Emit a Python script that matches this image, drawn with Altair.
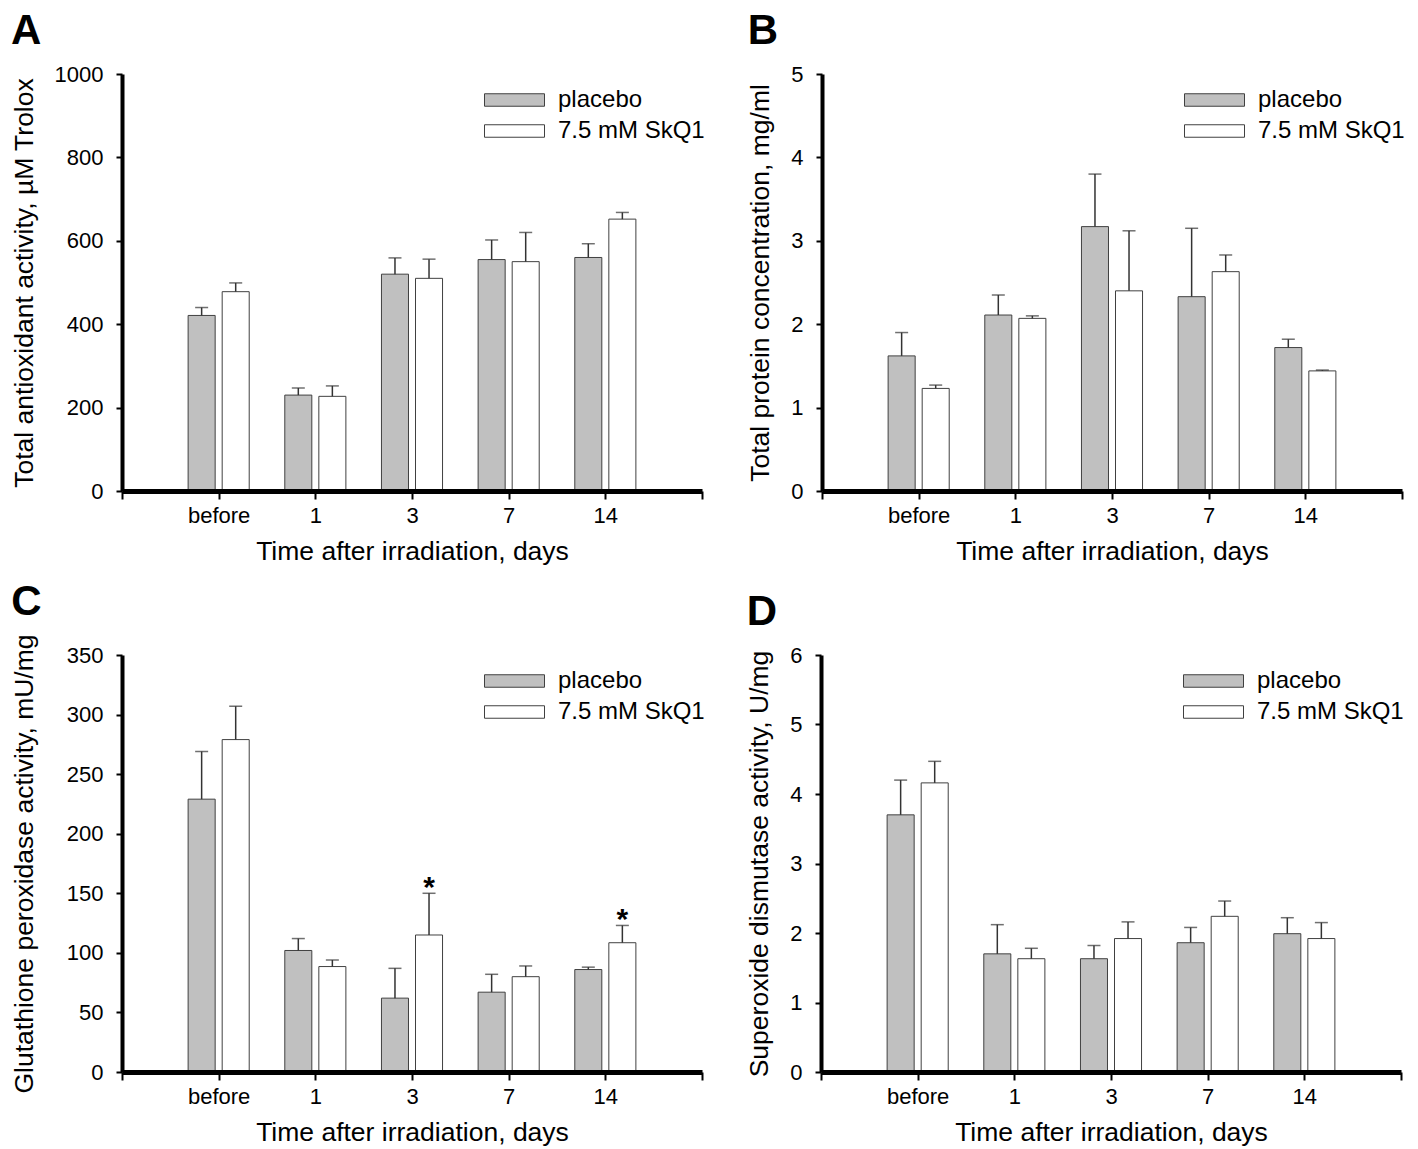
import json
import altair as alt
import pandas as pd

categories = ["before", "1", "3", "7", "14"]
series = ["placebo", "7.5 mM SkQ1"]

# Panel A: total antioxidant activity, µM Trolox
a_placebo = [421, 230, 520, 555, 560]
a_placebo_err = [19, 17, 39, 47, 33]
a_skq1 = [478, 227, 510, 550, 652]
a_skq1_err = [21, 25, 46, 70, 16]
a_ticks = [0, 200, 400, 600, 800, 1000]

# Panel B: total protein concentration, mg/ml
b_placebo = [1.62, 2.11, 3.17, 2.33, 1.72]
b_placebo_err = [0.28, 0.24, 0.63, 0.82, 0.10]
b_skq1 = [1.23, 2.07, 2.40, 2.63, 1.44]
b_skq1_err = [0.04, 0.03, 0.72, 0.20, 0.01]
b_ticks = [0, 1, 2, 3, 4, 5]

# Panel C: glutathione peroxidase activity, mU/mg
c_placebo = [229, 102, 62, 67, 86]
c_placebo_err = [40, 10, 25, 15, 2]
c_skq1 = [279, 88.5, 115, 80, 108.5]
c_skq1_err = [28, 5.5, 35, 9, 14.5]
c_sig = [False, False, True, False, True]
c_ticks = [0, 50, 100, 150, 200, 250, 300, 350]

# Panel D: superoxide dismutase activity, U/mg
d_placebo = [3.70, 1.70, 1.63, 1.86, 1.99]
d_placebo_err = [0.50, 0.42, 0.19, 0.22, 0.23]
d_skq1 = [4.16, 1.63, 1.92, 2.24, 1.92]
d_skq1_err = [0.31, 0.15, 0.24, 0.22, 0.23]
d_ticks = [0, 1, 2, 3, 4, 5, 6]

x_title = "Time after irradiation, days"

W, H = 580, 417
FONT = "Liberation Sans"
LEGEND_PATH = "M-1,-0.208L1,-0.208L1,0.208L-1,0.208Z"
n = len(categories)
label_expr = (
    f"datum.value >= 1 && datum.value <= {n} ? "
    f"{json.dumps(categories)}[datum.value - 1] : ''"
)


def panel(letter, ytitle, yticks, pl, pl_err, sk, sk_err, sig=None, ytitle_pad=16):
    sig = sig or [False] * n
    df = pd.DataFrame({
        "cat": categories * 2,
        "idx": list(range(1, n + 1)) * 2,
        "series": [series[0]] * n + [series[1]] * n,
        "value": pl + sk,
        "err": pl_err + sk_err,
        "sig": [False] * n + sig,
    })
    base = alt.Chart(df).transform_calculate(hi="datum.value + datum.err")
    x = alt.X("cat:N", sort=categories,
              scale=alt.Scale(domain=categories, paddingInner=0.368, paddingOuter=0.684),
              axis=None)
    xo = alt.XOffset("series:N", sort=series,
                     scale=alt.Scale(domain=series, paddingInner=0.206, paddingOuter=0))
    yscale = alt.Scale(domain=[yticks[0], yticks[-1]], nice=False, zero=True)
    yaxis = alt.Axis(values=yticks, format="d", title=ytitle, titlePadding=ytitle_pad)
    bars = base.mark_bar(stroke="#404040", strokeWidth=1).encode(
        x=x, xOffset=xo,
        y=alt.Y("value:Q", scale=yscale, axis=yaxis),
        color=alt.Color("series:N", sort=series,
                        scale=alt.Scale(domain=series, range=["#c0c0c0", "#ffffff"]),
                        legend=alt.Legend(
                            title=None, orient="none", legendX=362, legendY=13.5,
                            symbolType=LEGEND_PATH, symbolSize=3600,
                            symbolStrokeColor="#404040", symbolStrokeWidth=1,
                            labelFontSize=24, labelOffset=13, rowPadding=6,
                            clipHeight=25, padding=0, labelColor="black",
                            labelFont=FONT)),
    )
    rules = base.mark_rule(color="#333333", strokeWidth=1.5).encode(
        x=x, xOffset=xo, y="value:Q", y2="hi:Q")
    caps = base.mark_tick(color="#333333", thickness=1.5, size=13,
                          orient="horizontal").encode(x=x, xOffset=xo, y="hi:Q")
    stars = base.transform_filter("datum.sig").mark_text(
        text="*", fontSize=30, fontWeight="bold", baseline="alphabetic",
        dy=4, color="black", font=FONT).encode(x=x, xOffset=xo, y="hi:Q")
    xaxis_layer = alt.Chart(df).mark_point(opacity=0).encode(
        x=alt.X("idx:Q", scale=alt.Scale(domain=[0, n + 1], nice=False, zero=False),
                axis=alt.Axis(values=list(range(0, n + 2)), labelExpr=label_expr,
                              orient="bottom", title=x_title, zindex=1)),
        y="value:Q",
    )
    inner = alt.layer(bars, rules, caps, stars)
    return alt.layer(inner, xaxis_layer).resolve_scale(x="independent").properties(
        width=W, height=H,
        title=alt.TitleParams(letter, anchor="start", frame="bounds", offset=10,
                              fontSize=42, fontWeight="bold", font=FONT, color="black"),
    )


pA = panel("A", "Total antioxidant activity, µM Trolox", a_ticks,
           a_placebo, a_placebo_err, a_skq1, a_skq1_err)
pB = panel("B", "Total protein concentration, mg/ml", b_ticks,
           b_placebo, b_placebo_err, b_skq1, b_skq1_err)
pC = panel("C", "Glutathione peroxidase activity, mU/mg", c_ticks,
           c_placebo, c_placebo_err, c_skq1, c_skq1_err, c_sig, ytitle_pad=28)
pD = panel("D", "Superoxide dismutase activity, U/mg", d_ticks,
           d_placebo, d_placebo_err, d_skq1, d_skq1_err)

row1 = alt.hconcat(pA, pB, spacing=42).resolve_scale(
    color="independent", y="independent").resolve_legend(color="independent")
row2 = alt.hconcat(pC, pD, spacing=41).resolve_scale(
    color="independent", y="independent").resolve_legend(color="independent")

chart = alt.vconcat(row1, row2, spacing=15).resolve_scale(
    color="independent", y="independent"
).resolve_legend(
    color="independent"
).properties(
    padding={"left": 3, "top": 2, "right": 0, "bottom": 0}
).configure(
    font=FONT
).configure_view(
    stroke=None
).configure_axis(
    grid=False, domainColor="black", tickColor="black", labelColor="black",
    titleColor="black", labelFont=FONT, titleFont=FONT, titleFontWeight="normal",
    labelFontSize=22, titleFontSize=26.5,
).configure_axisY(
    domainWidth=4, tickWidth=2, tickSize=6, labelPadding=13,
).configure_axisX(
    domainWidth=5, tickWidth=2, tickSize=8, labelPadding=6, titlePadding=12,
)

chart.save("out.html", embed_options={"renderer": "svg", "actions": False})
